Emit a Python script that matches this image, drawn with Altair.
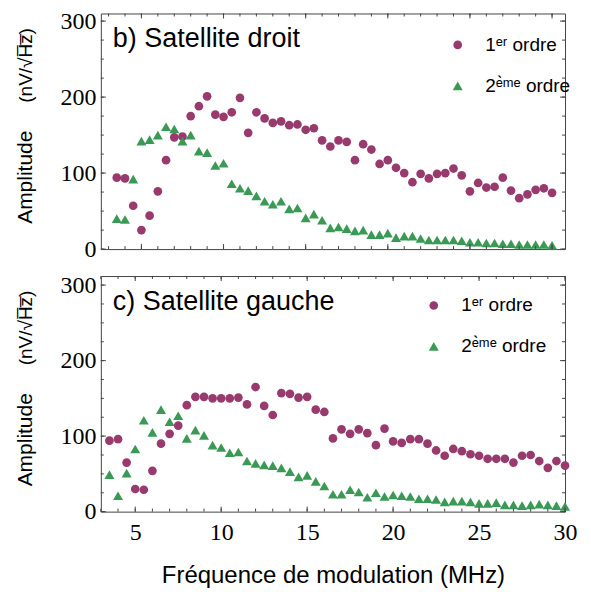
import altair as alt
import pandas as pd

# Frequencies (MHz)
freq = [3.5, 4.0, 4.5, 5.0, 5.5, 6.0, 6.5, 7.0, 7.5, 8.0, 8.5, 9.0, 9.5, 10.0,
        10.5, 11.0, 11.5, 12.0, 12.5, 13.0, 13.5, 14.0, 14.5, 15.0, 15.5, 16.0,
        16.5, 17.0, 17.5, 18.0, 18.5, 19.0, 19.5, 20.0, 20.5, 21.0, 21.5, 22.0,
        22.5, 23.0, 23.5, 24.0, 24.5, 25.0, 25.5, 26.0, 26.5, 27.0, 27.5, 28.0,
        28.5, 29.0, 29.5, 30.0]

# b) Satellite droit
b_first = [94, 93, 57, 25, 44, 76, 117, 147, 148, 175, 188, 201, 177, 174,
           180, 199, 153, 180, 172, 166, 168, 163, 164, 157, 159, 143, 135, 143,
           141, 117, 138, 131, 112, 117, 107, 100, 88, 99, 93, 99, 100, 106, 97,
           76, 87, 81, 82, 94, 77, 67, 72, 78, 80, 74]
b_second = [40, 39, 92, 142, 144, 150, 161, 158, 142, 150, 129, 127, 110, 113,
            86, 80, 77, 70, 63, 59, 63, 53, 54, 41, 46, 38, 28, 29, 27, 24, 25,
            19, 19, 21, 15, 17, 17, 14, 12, 12, 12, 12, 11, 9, 9, 8, 8, 7, 7, 6,
            6, 6, 6, 5]

# c) Satellite gauche
c_first = [94, 96, 65, 30, 29, 54, 90, 103, 114, 141, 152, 152, 150, 150,
           150, 151, 142, 165, 140, 128, 157, 156, 151, 152, 135, 132, 97, 109,
           103, 109, 104, 88, 110, 93, 91, 96, 96, 90, 81, 74, 83, 80, 76, 74,
           70, 70, 70, 65, 74, 75, 67, 58, 67, 61]
c_second = [49, 21, 51, 83, 121, 105, 135, 119, 127, 97, 108, 101, 88, 85, 78,
            79, 67, 64, 62, 61, 58, 53, 46, 48, 40, 34, 23, 23, 29, 26, 19, 25,
            20, 22, 21, 20, 17, 17, 16, 13, 14, 14, 13, 11, 11, 12, 9, 9, 8, 9,
            10, 9, 8, 7]

ORD = ["1ᵉʳ ordre", "2ᵉ̀ᵐᵉ ordre"]
COLORS = ["#983a6e", "#3a9a55"]
SHAPES = ["circle", "triangle-up"]
x_labels = [5, 10, 15, 20, 25, 30]
y_labels = [0, 100, 200, 300]
x_minor = list(range(3, 31))
y_minor = list(range(0, 301, 25))

FRAME = "#444444"
W, H = 465, 236


def make_df(first, second):
    return pd.DataFrame({
        "freq": freq + freq,
        "amp": first + second,
        "ordre": [ORD[0]] * len(first) + [ORD[1]] * len(second),
    })


def panel(first, second, label, xdom, ydom, leg_x, leg_y, show_x):
    xs = alt.Scale(domain=xdom, nice=False, zero=False)
    ys = alt.Scale(domain=ydom, nice=False, zero=False)
    if show_x:
        xaxis = alt.Axis(values=x_labels, title="Fréquence de modulation (MHz)",
                         grid=False, domain=False, ticks=False,
                         labelFont="Liberation Serif", labelFontSize=24,
                         labelPadding=9, labelColor="black", labelFlush=False,
                         titleFont="Liberation Sans", titleFontSize=24,
                         titleFontWeight="normal", titleColor="black",
                         titlePadding=19)
    else:
        xaxis = None
    yaxis = alt.Axis(values=y_labels, title=None, grid=False, domain=False,
                     ticks=False, labelFont="Liberation Serif", labelFontSize=24,
                     labelPadding=5, labelColor="black", labelFlush=False)
    legend = alt.Legend(title=None, orient="none", legendX=leg_x, legendY=leg_y,
                        symbolSize=196, labelFont="Liberation Sans",
                        labelFontSize=19, rowPadding=21, labelOffset=18,
                        symbolStrokeWidth=0, symbolOpacity=1, padding=0,
                        labelColor="black")
    xenc = alt.X("freq:Q", scale=xs, axis=xaxis)
    yenc = alt.Y("amp:Q", scale=ys, axis=yaxis)
    pts = alt.Chart(make_df(first, second)).mark_point(
        filled=True, opacity=1, strokeWidth=0
    ).encode(
        x=xenc,
        y=yenc,
        color=alt.Color("ordre:N", scale=alt.Scale(domain=ORD, range=COLORS),
                        legend=legend),
        shape=alt.Shape("ordre:N", scale=alt.Scale(domain=ORD, range=SHAPES),
                        legend=legend),
        size=alt.Size("ordre:N", scale=alt.Scale(domain=ORD, range=[76, 100]),
                      legend=None),
    )
    xt = alt.Chart(pd.DataFrame({"freq": x_minor}))
    yt = alt.Chart(pd.DataFrame({"amp": y_minor}))
    rule = dict(color=FRAME, strokeWidth=1)
    ticks = [
        xt.mark_rule(**rule).encode(x=xenc, y=alt.value(H), y2=alt.value(H - 3)),
        xt.mark_rule(**rule).encode(x=xenc, y=alt.value(0), y2=alt.value(3)),
        yt.mark_rule(**rule).encode(y=yenc, x=alt.value(0), x2=alt.value(3)),
        yt.mark_rule(**rule).encode(y=yenc, x=alt.value(W), x2=alt.value(W - 3)),
    ]
    xt_major = alt.Chart(pd.DataFrame({"freq": x_labels}))
    yt_major = alt.Chart(pd.DataFrame({"amp": y_labels}))
    ticks += [
        xt_major.mark_rule(**rule).encode(x=xenc, y=alt.value(H), y2=alt.value(H - 5)),
        xt_major.mark_rule(**rule).encode(x=xenc, y=alt.value(0), y2=alt.value(5)),
        yt_major.mark_rule(**rule).encode(y=yenc, x=alt.value(0), x2=alt.value(5)),
        yt_major.mark_rule(**rule).encode(y=yenc, x=alt.value(W), x2=alt.value(W - 5)),
    ]
    title_txt = alt.Chart(pd.DataFrame({"t": [label]})).mark_text(
        align="left", baseline="middle", font="Liberation Sans", fontSize=27,
        color="black"
    ).encode(x=alt.value(12), y=alt.value(26), text="t:N")
    amp_txt = alt.Chart(pd.DataFrame({"t": ["Amplitude"]})).mark_text(
        angle=270, align="center", baseline="middle", font="Liberation Sans",
        fontSize=21, color="black"
    ).encode(x=alt.value(-75), y=alt.value(164), text="t:N")
    unit_txt = alt.Chart(pd.DataFrame({"t": ["(nV/√H̅z̅)"]})).mark_text(
        angle=270, align="center", baseline="middle", font="Liberation Sans",
        fontSize=19, color="black"
    ).encode(x=alt.value(-75), y=alt.value(52), text="t:N")
    return alt.layer(pts, *ticks, title_txt, amp_txt, unit_txt).properties(
        width=W, height=H)


top = panel(b_first, b_second, "b) Satellite droit", [2.53, 30.79], [0, 310],
            348, 22, False)
bottom = panel(c_first, c_second, "c) Satellite gauche", [3, 30], [0, 312],
               324, 20, True)

chart = alt.vconcat(top, bottom, spacing=27, bounds="flush").resolve_scale(
    color="independent", shape="independent", size="independent"
).resolve_legend(
    color="independent", shape="independent"
).properties(
    padding={"left": 6, "top": 0, "right": 5, "bottom": 5}
).configure_view(stroke=FRAME, strokeWidth=1)

chart.save("out.html", embed_options={"renderer": "svg", "actions": False})
